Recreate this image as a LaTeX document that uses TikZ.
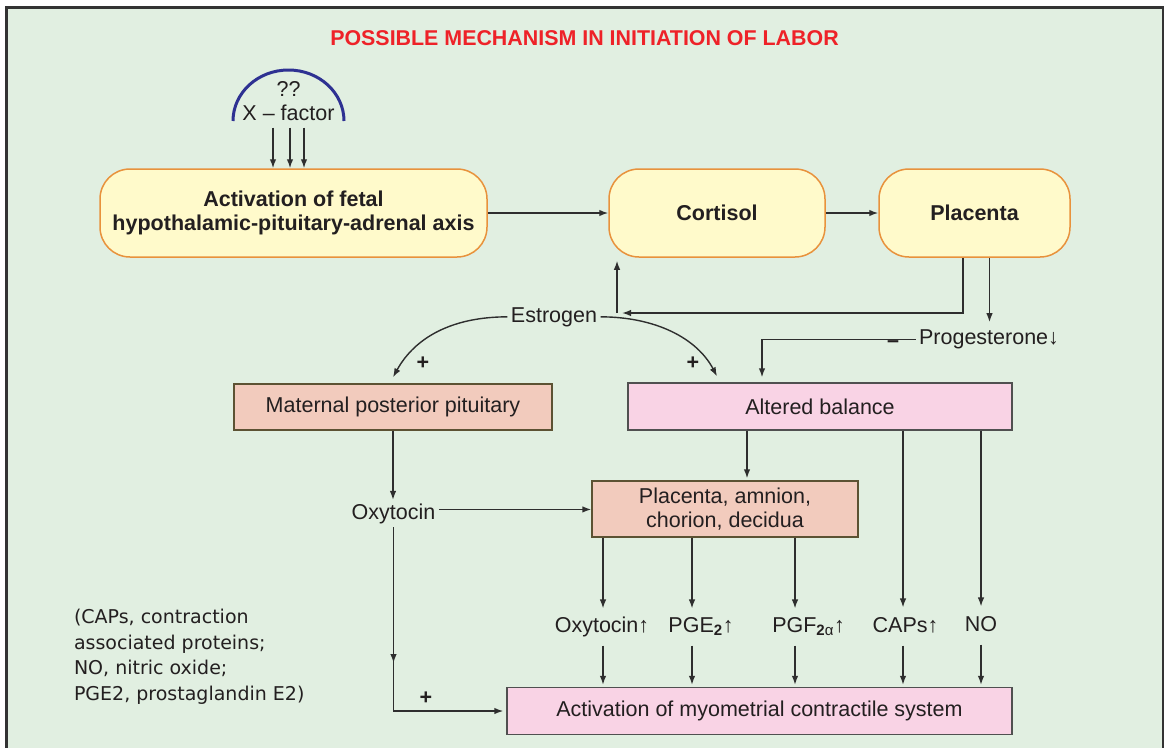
\documentclass[tikz,border=0pt]{standalone}
\usepackage{fontspec}
\setmainfont{Liberation Sans}
\newfontfamily\notefont{DejaVu Sans}
\usetikzlibrary{arrows.meta,positioning}
\definecolor{bggreen}{HTML}{E1EFE1}
\definecolor{framegray}{HTML}{333333}
\definecolor{boxyellow}{HTML}{FFFACB}
\definecolor{boxorange}{HTML}{E8923C}
\definecolor{boxsalmon}{HTML}{F2CBBD}
\definecolor{boxpink}{HTML}{F9D3E5}
\definecolor{edgeolive}{HTML}{5C5233}
\definecolor{edgegray}{HTML}{505050}
\definecolor{titlered}{HTML}{EE2228}
\definecolor{arcblue}{HTML}{2E3192}
\definecolor{inkgray}{HTML}{231F20}
\definecolor{linegray}{HTML}{2E2E2E}

\begin{document}
\begin{tikzpicture}[x=1pt, y=-1pt, font=\fontsize{21.5}{24}\selectfont, text=inkgray, rbox/.style={draw=boxorange, fill=boxyellow, line width=1.5pt, rounded corners=30pt, align=center, font=\fontsize{21.5}{24}\selectfont\bfseries, minimum height=88pt}, sbox/.style={draw=edgeolive, fill=boxsalmon, line width=1.4pt, align=center}, pbox/.style={draw=edgegray, fill=boxpink, line width=1.4pt, align=center}, lbl/.style={anchor=base, text height=15pt, text depth=5pt}, sign/.style={font=\fontsize{21.5}{24}\selectfont\bfseries}, arr/.style={-{Latex[length=9pt,width=6.5pt]}, line width=1.4pt, draw=linegray}]
\useasboundingbox (0,0) rectangle (1164,747);
\fill[white] (0,0) rectangle (1164,747);
\draw[line width=2.5pt, draw=framegray, fill=bggreen] (6.25,7.25) rectangle (1162.75,760);
\node[text=titlered, font=\fontsize{21.4}{24}\selectfont\bfseries] (title) at (584.5,38) {POSSIBLE MECHANISM IN INITIATION OF LABOR};
\draw[arcblue, line width=3pt] (233,121) arc[start angle=180, end angle=0, x radius=55.5pt, y radius=51pt];
\node[anchor=base] (qq) at (288.5,96) {??};
\node[anchor=base] (xfac) at (288.5,120) {X -- factor};
\node[rbox, minimum width=387pt] (hpa) at (293.5,213) {Activation of fetal\\hypothalamic-pituitary-adrenal axis};
\node[rbox, minimum width=216pt] (cort) at (717,213) {Cortisol};
\node[rbox, minimum width=191pt] (plac) at (974.5,213) {Placenta};
\node[anchor=base] (estr) at (554,322) {Estrogen};
\node[anchor=base] (prog) at (989,344.5) {Progesterone↓};
\node[sign] (minus) at (893,344) {–};
\node[sign] (plusl) at (423,363) {+};
\node[sign] (plusr) at (693,363) {+};
\node[sbox, minimum width=318pt, minimum height=46pt] (mpp) at (393,407) {Maternal posterior pituitary};
\node[pbox, minimum width=384pt, minimum height=47pt] (alt) at (820,406.5) {Altered balance};
\node[anchor=base] (oxy) at (393.5,519) {Oxytocin};
\node[sbox, minimum width=266pt, minimum height=56pt] (pacd) at (725,509) {Placenta, amnion,\\chorion, decidua};
\coordinate (c1) at (603,0);
\coordinate (c2) at (692,0);
\coordinate (c3) at (795,0);
\coordinate (c4) at (903,0);
\coordinate (c5) at (981,0);
\node[lbl] (l1) at (602,632) {Oxytocin↑};
\node[lbl] (l2) at (701,632) {PGE\textsubscript{\textbf{2}}↑};
\node[lbl] (l3) at (808.5,632) {PGF\textsubscript{\textbf{2}α}↑};
\node[lbl] (l4) at (905.5,632) {CAPs↑};
\node[lbl] (l5) at (981,631) {NO};
\node[pbox, minimum width=505pt, minimum height=47pt] (act) at (759.5,711) {Activation of myometrial contractile system};
\node[sign] (plusb) at (426,698) {+};
\node[anchor=north west, align=left, font=\notefont\fontsize{19}{25.5}\selectfont] (legend) at (70.5,606) {(CAPs, contraction\\associated proteins;\\NO, nitric oxide;\\PGE2, prostaglandin E2)};
\coordinate (ej) at (617,313);
\foreach \dx in {-15.5,1.5,15.5}
  \draw[arr, shorten <=4pt] ([xshift=\dx pt]xfac.south) -- ([xshift=\dx pt]xfac.south |- hpa.north);
\draw[arr] (hpa) -- (cort);
\draw[arr] (cort) -- (plac);
\draw[arr] ([xshift=-11.5pt]plac.south) |- ([xshift=5pt]ej);
\draw[arr] (ej) -- ([yshift=-3pt]cort.south -| ej);
\draw[arr, shorten >=4pt] ([xshift=15pt]plac.south) -- ([xshift=15pt]plac.south |- prog.north);
\draw[arr, shorten >=5pt] (prog.west) -| ([xshift=-58pt]alt.north);
\draw[arr] (estr.west) .. controls +(-55,0) and +(22,-40) .. ([yshift=6pt]mpp.north);
\draw[arr] (estr.east) .. controls +(55,0) and +(-20,-38) .. ([xshift=-103pt, yshift=6pt]alt.north);
\draw[arr] (mpp.south) -- (mpp.south |- oxy.north);
\draw[arr] ([yshift=4pt]oxy.east) -- ([yshift=4pt]oxy.east -| pacd.west);
\draw[arr, shorten >=2pt] ([xshift=-73pt]alt.south) -- ([xshift=-73pt]alt.south |- pacd.north);
\foreach \c/\l in {c1/l1, c2/l2, c3/l3}
  \draw[arr, shorten >=5pt] (pacd.south -| \c) -- (\l.north -| \c);
\foreach \c/\l in {c4/l4, c5/l5}
  \draw[arr, shorten >=6pt] (alt.south -| \c) -- (\l.north -| \c);
\foreach \c/\l in {c1/l1, c2/l2, c3/l3, c4/l4, c5/l5}
  \draw[arr, shorten <=5pt, shorten >=2pt] (\l.south -| \c) -- (act.north -| \c);
\draw[arr] (oxy.south) -- ([yshift=48pt]oxy.south |- act.west);
\draw[arr, shorten >=3pt] (oxy.south) |- (act.west);
\end{tikzpicture}
\end{document}
